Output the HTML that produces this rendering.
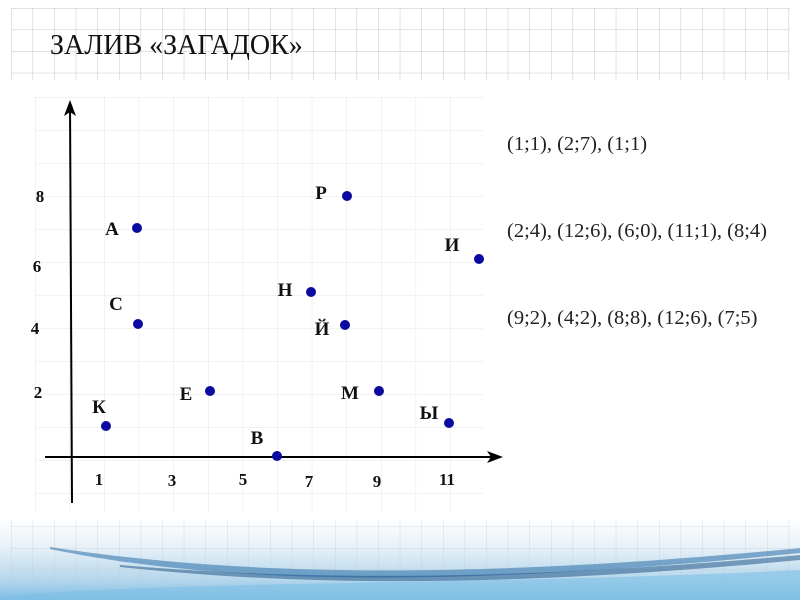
<!DOCTYPE html>
<html><head><meta charset="utf-8"><style>
body{margin:0;background:#fff;}
svg{display:block;font-family:"Liberation Serif",serif;}
</style></head><body>
<svg width="800" height="600" viewBox="0 0 800 600" xmlns="http://www.w3.org/2000/svg">
<defs>
<pattern id="tg" x="11" y="8" width="21.6" height="21.6" patternUnits="userSpaceOnUse">
<path d="M0 0V21.6M0 0H21.6" stroke="#c4c4c4" stroke-width="1" fill="none"/>
</pattern>
<pattern id="mg" x="35" y="97" width="34.6" height="33" patternUnits="userSpaceOnUse">
<path d="M0 0V33M0 0H34.6" stroke="#e6e6e6" stroke-width="1" fill="none"/>
</pattern>
<linearGradient id="bg" x1="0" y1="0" x2="0" y2="1">
<stop offset="0" stop-color="#fff"/>
<stop offset="0.35" stop-color="#e8f1f8"/>
<stop offset="0.75" stop-color="#b5d7ec"/>
<stop offset="1" stop-color="#7fbde3"/>
</linearGradient>
</defs>
<rect x="11" y="8" width="779" height="72" fill="url(#tg)"/>
<rect x="35" y="97" width="448" height="415" fill="url(#mg)"/>
<text x="50" y="54" font-size="28" fill="#111">ЗАЛИВ «ЗАГАДОК»</text>
<rect x="0" y="518" width="800" height="82" fill="url(#bg)"/>
<rect x="11" y="520" width="779" height="60" fill="url(#tg)" opacity="0.6"/>
<path d="M50 547 C200 570 420 585 800 548 L800 553 C420 592 200 580 50 549Z" fill="#2a6ea8" opacity="0.55"/>
<path d="M120 565 C300 580 500 582 800 555 L800 560 C500 588 300 586 120 567Z" fill="#154b80" opacity="0.5"/>
<path d="M0 596 C200 580 500 585 800 570 L800 600 L0 600Z" fill="#7ec0e6" opacity="0.6"/>
<g stroke="#000" stroke-width="2" fill="none">
<line x1="70" y1="103" x2="72" y2="503"/>
<line x1="45" y1="457" x2="498" y2="457"/>
</g>
<path d="M70 100 L64 116 L70 112 L76 116Z" fill="#000"/>
<path d="M503 457 L487 451 L491 457 L487 463Z" fill="#000"/>
<g fill="#0a0aa0">
<circle cx="137" cy="228" r="5"/><circle cx="138" cy="324" r="5"/><circle cx="106" cy="426" r="5"/>
<circle cx="210" cy="391" r="5"/><circle cx="277" cy="456" r="5"/><circle cx="311" cy="292" r="5"/>
<circle cx="347" cy="196" r="5"/><circle cx="345" cy="325" r="5"/><circle cx="379" cy="391" r="5"/>
<circle cx="449" cy="423" r="5"/><circle cx="479" cy="259" r="5"/>
</g>
<g font-size="19" font-weight="bold" fill="#111" text-anchor="middle">
<text x="99" y="413">К</text><text x="112" y="235">А</text><text x="116" y="310">С</text>
<text x="186" y="400">Е</text><text x="257" y="444">В</text><text x="285" y="296">Н</text>
<text x="321" y="199">Р</text><text x="322" y="335">Й</text><text x="350" y="399">М</text>
<text x="429" y="419">Ы</text><text x="452" y="251">И</text>
</g>
<g font-size="17" font-weight="bold" fill="#111" text-anchor="middle">
<text x="40" y="202">8</text><text x="37" y="272">6</text><text x="35" y="334">4</text><text x="38" y="398">2</text>
<text x="99" y="485">1</text><text x="172" y="486">3</text><text x="243" y="485">5</text>
<text x="309" y="487">7</text><text x="377" y="487">9</text><text x="447" y="485">11</text>
</g>
<g font-size="20.5" fill="#222">
<text x="507" y="150">(1;1), (2;7), (1;1)</text>
<text x="507" y="237">(2;4), (12;6), (6;0), (11;1), (8;4)</text>
<text x="507" y="324">(9;2), (4;2), (8;8), (12;6), (7;5)</text>
</g>
</svg>
</body></html>
